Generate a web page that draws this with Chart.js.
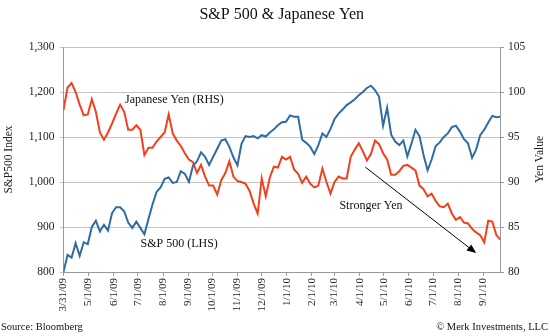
<!DOCTYPE html>
<html>
<head>
<meta charset="utf-8">
<script src="https://cdn.jsdelivr.net/npm/chart.js@4.4.0/dist/chart.umd.min.js"></script>
<style>
  html, body { margin: 0; padding: 0; background: #fff; }
</style>
</head>
<body>
<canvas id="chart" width="550" height="336"></canvas>
<script>
// Series sampled every 5 days from 3/31/09
const startDate = '3/31/09';
const stepDays = 5;

const monthTicks = ['3/31/09', '5/1/09', '6/1/09', '7/1/09', '8/1/09', '9/1/09', '10/1/09', '11/1/09',
    '12/1/09', '1/1/10', '2/1/10', '3/1/10', '4/1/10', '5/1/10', '6/1/10', '7/1/10', '8/1/10', '9/1/10'];

const spx = [
    800, 838, 832, 864, 836, 866, 862, 900, 914, 890,
    905, 892, 931, 944, 944, 935, 910, 898, 912, 898,
    884, 918, 950, 978, 988, 1007, 1010, 998, 1000, 1024,
    1018, 1000, 1036, 1046, 1066, 1056, 1038, 1056, 1074, 1092,
    1095, 1078, 1055, 1037, 1085, 1102, 1100, 1102, 1097, 1104,
    1101, 1110, 1117, 1126, 1133, 1134, 1148, 1145, 1145, 1094,
    1087, 1078, 1062, 1082, 1108, 1100, 1118, 1140, 1152, 1161,
    1171, 1177, 1184, 1193, 1200, 1209, 1214, 1204, 1190, 1125,
    1165, 1105, 1090, 1082, 1092, 1057, 1085, 1116, 1102, 1060,
    1026, 1050, 1080, 1088, 1100, 1108, 1122, 1125, 1112, 1095,
    1086, 1054, 1072, 1104, 1116, 1132, 1147, 1144, 1145
];

const yen = [
    98.0, 100.5, 101.0, 100.0, 98.6, 97.4, 97.5, 99.2, 97.8, 95.5,
    94.7, 95.5, 96.5, 97.6, 98.6, 97.8, 95.8, 95.8, 96.3, 95.8,
    93.0, 93.8, 93.8, 94.5, 95.0, 95.5, 97.5, 95.4, 94.6, 94.0,
    93.2, 92.5, 92.2, 91.0, 91.9, 90.6, 89.6, 89.6, 88.6, 90.2,
    91.0, 92.3, 90.6, 90.1, 90.0, 89.8, 89.0, 87.6, 86.5, 90.4,
    88.4, 90.5, 91.7, 91.6, 92.8, 92.5, 92.8, 91.4, 90.9, 89.9,
    90.6, 89.8, 89.4, 89.6, 91.5, 90.0, 88.7, 90.0, 90.6, 90.4,
    90.4, 92.8, 93.6, 94.3, 93.4, 92.4, 93.1, 94.6, 94.2, 93.2,
    92.5, 90.8, 90.8, 91.2, 91.8, 91.9, 91.6, 91.3, 89.6, 89.2,
    88.4, 88.7, 87.9, 87.3, 87.2, 87.6, 86.5, 85.8, 86.1, 85.5,
    85.4, 84.8, 84.4, 84.1, 83.3, 85.7, 85.6, 84.1, 83.6
];

// annotations: [text, day, S&P-axis value]
const notes = [
    ['Japanese Yen (RHS)', 137, 1182],
    ['S&P 500 (LHS)', 143, 862],
    ['Stronger Yen', 380, 948]
];
const arrowFrom = [373, 1033];
const arrowTo = [510, 842];

const serif = "'Liberation Serif', 'Times New Roman', serif";

function dayOf(label) {
    const p = label.split('/').map(Number);
    const s = startDate.split('/').map(Number);
    const d = Date.UTC(2000 + p[2], p[0] - 1, p[1]);
    const d0 = Date.UTC(2000 + s[2], s[0] - 1, s[1]);
    return Math.round((d - d0) / 86400000);
}

const spxPoints = spx.map((v, i) => ({ x: i * stepDays, y: v }));
const yenPoints = yen.map((v, i) => ({ x: i * stepDays, y: v }));

const extras = {
    id: 'extras',
    afterDraw(chart) {
        const ctx = chart.ctx;
        const area = chart.chartArea;
        const xs = chart.scales.x, ys = chart.scales.y;
        ctx.save();
        ctx.fillStyle = '#111';
        ctx.textBaseline = 'middle';

        ctx.font = '16px ' + serif;
        ctx.textAlign = 'center';
        ctx.fillText('S&P 500 & Japanese Yen', (area.left + area.right) / 2, 15);

        ctx.font = '12px ' + serif;
        notes.forEach(n => {
            ctx.fillText(n[0], xs.getPixelForValue(n[1]), ys.getPixelForValue(n[2]));
        });

        // right axis title, reading bottom to top
        ctx.save();
        ctx.translate(540, (area.top + area.bottom) / 2);
        ctx.rotate(-Math.PI / 2);
        ctx.font = '11.5px ' + serif;
        ctx.fillStyle = '#222';
        ctx.fillText('Yen Value', 0, 0);
        ctx.restore();

        ctx.font = '10.5px ' + serif;
        ctx.textAlign = 'left';
        ctx.fillText('Source: Bloomberg', 1, 327);
        ctx.textAlign = 'right';
        ctx.fillText('\u00A9 Merk Investments, LLC', 548, 327);

        // arrow
        const x1 = xs.getPixelForValue(arrowFrom[0]), y1 = ys.getPixelForValue(arrowFrom[1]);
        const x2 = xs.getPixelForValue(arrowTo[0]), y2 = ys.getPixelForValue(arrowTo[1]);
        const ang = Math.atan2(y2 - y1, x2 - x1);
        ctx.strokeStyle = '#000';
        ctx.lineWidth = 1;
        ctx.beginPath();
        ctx.moveTo(x1, y1);
        ctx.lineTo(x2 - 6 * Math.cos(ang), y2 - 6 * Math.sin(ang));
        ctx.stroke();
        ctx.beginPath();
        ctx.moveTo(x2, y2);
        ctx.lineTo(x2 - 10 * Math.cos(ang - 0.4), y2 - 10 * Math.sin(ang - 0.4));
        ctx.lineTo(x2 - 10 * Math.cos(ang + 0.4), y2 - 10 * Math.sin(ang + 0.4));
        ctx.closePath();
        ctx.fillStyle = '#000';
        ctx.fill();
        ctx.restore();
    }
};

Chart.defaults.font.family = serif;
Chart.defaults.color = '#222';

new Chart(document.getElementById('chart'), {
    type: 'line',
    data: {
        datasets: [{
            label: 'S&P 500 (LHS)',
            data: spxPoints,
            yAxisID: 'y',
            borderColor: '#2f6ca3',
            borderWidth: 2,
            pointRadius: 0,
            tension: 0
        }, {
            label: 'Japanese Yen (RHS)',
            data: yenPoints,
            yAxisID: 'y1',
            borderColor: '#f2401c',
            borderWidth: 2,
            pointRadius: 0,
            tension: 0
        }]
    },
    options: {
        responsive: false,
        animation: false,
        layout: { padding: { top: 47, left: 0, right: 0, bottom: 0 } },
        plugins: {
            legend: { display: false },
            tooltip: { enabled: false }
        },
        scales: {
            x: {
                type: 'linear',
                min: 0,
                max: 539.5,
                afterBuildTicks: scale => {
                    scale.ticks = monthTicks.map(t => ({ value: dayOf(t) }));
                },
                afterFit: scale => { scale.height = 64; },
                grid: { drawOnChartArea: false, tickLength: 4, color: '#999' },
                border: { color: '#999' },
                ticks: {
                    autoSkip: false,
                    minRotation: 90,
                    maxRotation: 90,
                    padding: 2,
                    font: { size: 11 },
                    callback: (v, i) => monthTicks[i]
                }
            },
            y: {
                position: 'left',
                min: 800,
                max: 1300,
                afterFit: scale => { scale.width = 63.5; },
                ticks: {
                    stepSize: 100,
                    padding: 5,
                    font: { size: 11.5 },
                    callback: v => v.toLocaleString('en-US')
                },
                grid: { color: '#c4c4c4', tickLength: 4 },
                border: { color: '#999' },
                title: {
                    display: true,
                    text: 'S&P500 Index',
                    font: { size: 11.5 },
                    padding: { top: 2, bottom: 2 }
                }
            },
            y1: {
                position: 'right',
                min: 80,
                max: 105,
                afterFit: scale => { scale.width = 50; },
                ticks: { stepSize: 5, padding: 4, font: { size: 11.5 } },
                grid: { drawOnChartArea: false, tickLength: 4, color: '#999' },
                border: { color: '#999' }
            }
        }
    },
    plugins: [extras]
});
</script>
</body>
</html>
